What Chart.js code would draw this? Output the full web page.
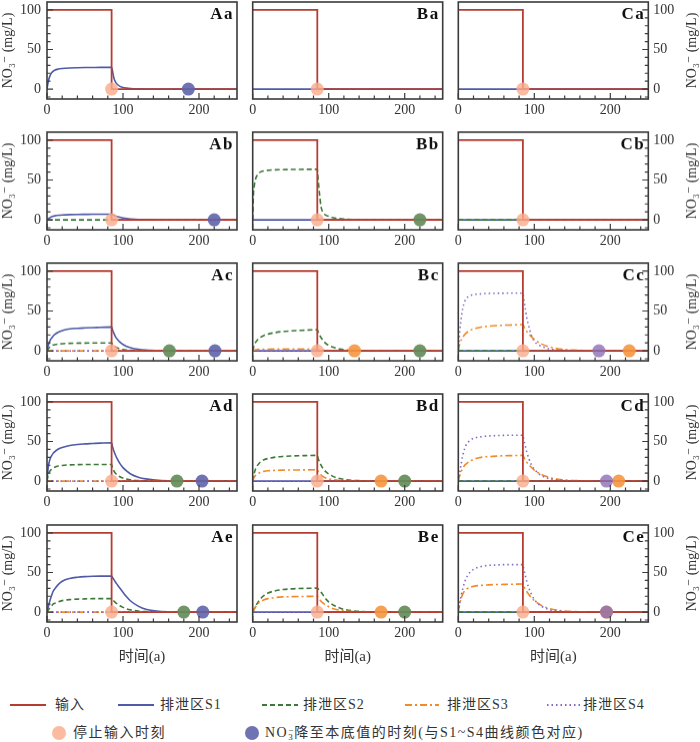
<!DOCTYPE html>
<html><head><meta charset="utf-8">
<script src="https://cdn.jsdelivr.net/npm/chart.js@4.4.1/dist/chart.umd.min.js"></script>
<style>
html,body{margin:0;padding:0;background:#fff;width:700px;height:742px;overflow:hidden;position:relative;font-family:"Liberation Serif","Times New Roman","DejaVu Serif","Noto Sans CJK SC",serif;color:#333;}
canvas.pc{position:absolute;}
.lg{position:absolute;font-size:14px;line-height:20px;white-space:nowrap;color:#333;}
.lg1{letter-spacing:1px;}
.lg2{letter-spacing:1.5px;}
.sw{position:absolute;}
.no3{display:inline-block;vertical-align:-3px;line-height:7px;font-size:9px;letter-spacing:0;margin-right:1px;}
</style></head><body>
<script>
// ---------- DATA ----------
const timeYears = [0,1,2,4,6,8,10,15,20,30,40,50,60,70,85,86,88,90,93,96,100,105,110,120,130,150,200,250];
const inputTimes = [0,85,85,250];
const inputValues = [100,100,0,0];
const zeroTimes = [0,250];
const zeroValues = [0,0];
const stopTimes = [85];
const stopValues = [0];
const xTickValues = [0,100,200];
const yTickValues = [0,50,100];
const xMinorTicks = [0,20,40,60,80,100,120,140,160,180,200,220,240];
const yMinorTicks = [-10,0,10,20,30,40,50,60,70,80,90,100];
const panelNames = ['Aa','Ba','Ca','Ab','Bb','Cb','Ac','Bc','Cc','Ad','Bd','Cd','Ae','Be','Ce'];

const aaS1 = [0,6,11,17,20.5,22.5,23.8,25.3,26,26.7,27,27.2,27.3,27.4,27.5,24,14,9,5.5,3.5,2,1.2,0.8,0.4,0.2,0.05,0,0];
const abS1 = [0,0.8,1.5,2.8,3.8,4.5,5,5.8,6.2,6.6,6.8,6.9,7,7,7,6.6,5.8,5,4,3.2,2.4,1.6,1.1,0.5,0.3,0.1,0,0];
const acS1 = [0,4.5,8,13,16,18.5,20.5,23.5,25.5,27.5,28.3,28.8,29.2,29.5,30,27,22,18,14,11,8,5.5,4,2,1,0.3,0,0];
const acS2 = [0,1.5,3,5,6.5,7.3,7.8,8.5,9,9.5,9.7,9.8,9.9,10,10,8.5,6.5,5,3.5,2.5,1.6,1,0.6,0.25,0.1,0,0,0];
const adS1 = [0,12,20,28,32,35,37,40.5,42.5,45,46.3,47,47.5,48,48.5,44,38,33,27,22,17,12.5,9,5,2.8,0.8,0,0];
const adS2 = [0,5,9,13,15,16.5,17.5,19,19.8,20.5,20.8,21,21,21,21,17,13,10,7.5,5.5,3.8,2.5,1.6,0.7,0.3,0.1,0,0];
const aeS1 = [0,4,8,15,21,26,29,35,39,42.5,44,44.8,45.2,45.4,45.5,44,41,38,34,30,25,19,14,7.5,3.5,0.8,0,0];
const aeS2 = [0,1.5,3,6,8,10,11,13,14.5,15.8,16.4,16.7,17,17,17,16,14,12,10,8,6,4,2.8,1.3,0.6,0.1,0,0];
const bbS2 = [0,32,42,52,56,58.5,60,61.5,62.2,62.8,63,63.2,63.3,63.4,63.5,52,32,16,9,6,4.5,3,2,1,0.5,0.1,0,0];
const bcS2 = [0,4,7,11,13.5,15.5,17,19.5,21,23,24.3,25,25.5,26,26.5,24,20,16.5,12.5,9.5,7,4.8,3.3,1.5,0.7,0.2,0,0];
const bcS3 = [0,0.5,1,1.5,1.8,2,2,2.1,2.1,2.2,2.2,2.2,2.2,2.2,2.2,2,1.7,1.4,1,0.8,0.5,0.3,0.2,0.1,0,0,0,0];
const bdS2 = [0,6,10,16,19.5,22,24,27,28.5,30.3,31.2,31.7,32,32.2,32.5,29,24,20,15.5,12,9,6.3,4.4,2.2,1.1,0.3,0,0];
const bdS3 = [0,3,5,7.5,9,10,11,12.3,13,13.6,13.9,14,14.1,14.2,14.3,12,9.5,7.5,5.5,4,2.8,1.8,1.2,0.5,0.2,0,0,0];
const beS2 = [0,2,4,8,11,14,16.5,21,24,27,28.5,29.3,29.8,30,30.3,29.5,27.5,25,21,17,13,9.5,7,3.5,1.8,0.5,0,0];
const beS3 = [0,2,4,7,9.5,11.5,13,15.5,17,18.5,19.2,19.5,19.7,19.8,20,18.5,16,13.5,11,9,6.8,4.7,3.3,1.6,0.8,0.2,0,0];
const ccS3 = [0,5,9,14,17.5,20,22,25.5,27.5,29.8,31,31.7,32.2,32.5,33,31,27.5,24.5,21,18,14.5,11,8.5,5,3,1,0.1,0];
const ccS4 = [0,12,25,42,54,61,65,69,70.5,71.5,72,72.2,72.3,72.4,72.5,66,54,42,30,20,12,8,5.5,2.5,1.2,0.3,0,0];
const cdS3 = [0,4,7.5,12.5,16.5,19.5,21.5,25,27.5,30,31,31.6,32,32.2,32.5,30.5,27,24,20.5,17.5,14,10.5,8,4.5,2.5,0.8,0.1,0];
const cdS4 = [0,5,11,23,33,40,45,51,54,56,57,57.5,57.8,58,58,53,45,37,28,21,15,10,6.5,3,1.5,0.3,0,0];
const ceS3 = [0,6,11,18,23,26.5,28.5,31,32.5,33.8,34.4,34.8,35,35.2,35.4,33,29.5,26,22,18.5,14.5,11,8,4.5,2.5,0.8,0.1,0];
const ceS4 = [0,6,12,22,30,37,42,50,54,57.5,59,59.5,60,60,60,55,47,39,30,23,16,10.5,7,3,1.5,0.3,0,0];

const curveS1 = [aaS1,null,null,abS1,null,null,acS1,null,null,adS1,null,null,aeS1,null,null];
const curveS2 = [null,null,null,null,bbS2,null,acS2,bcS2,null,adS2,bdS2,null,aeS2,beS2,null];
const curveS3 = [null,null,null,null,null,null,null,bcS3,ccS3,null,bdS3,cdS3,null,beS3,ceS3];
const curveS4 = [null,null,null,null,null,null,null,null,ccS4,null,null,cdS4,null,null,ceS4];
const zeroS1 = [false,true,true,false,true,true,false,true,true,false,true,true,false,true,true];
const zeroS2 = [false,false,false,true,false,true,false,false,true,false,false,true,false,false,true];
const zeroS3 = [false,false,false,false,false,false,true,false,false,true,false,false,true,false,false];
const zeroS4 = [false,false,false,false,false,false,true,true,false,true,true,false,true,true,false];
const baseS1 = [186,null,null,220,null,null,221,null,null,204,null,null,205,null,null];
const baseS2 = [null,null,null,null,220,null,161,220,null,171,200,null,180,200,null];
const baseS3 = [null,null,null,null,null,null,null,134,225,null,169,211,null,169,195];
const baseS4 = [null,null,null,null,null,null,null,null,185,null,null,195,null,null,195];

// ---------- STYLE ----------
const FONT = '"Liberation Serif", "Times New Roman", "DejaVu Serif", "Noto Sans CJK SC", serif';
const TXT = '#333333';
const inputColor = '#b53c30';
const seriesColors = ['#4f5aa8','#3d7a3a','#f28a2a','#8669c4'];
const seriesDash = [[], [5,3], [7,3,2,3], [1.5,3]];
const markColors = ['rgba(95,100,170,0.9)','rgba(100,140,90,0.92)','rgba(245,150,65,0.9)','rgba(140,110,180,0.8)'];
const stopColor = 'rgba(250,172,140,0.82)';
const curves = [curveS1,curveS2,curveS3,curveS4];
const zeros = [zeroS1,zeroS2,zeroS3,zeroS4];
const bases = [baseS1,baseS2,baseS3,baseS4];

Chart.defaults.font.family = FONT;
Chart.defaults.color = TXT;

const pts = (xs, ys) => xs.map((x,k)=>({x:x, y:ys[k]}));

const panelDeco = {
  id: 'panelDeco',
  afterDatasetsDraw(chart, args, o) {
    const ctx = chart.ctx, a = chart.chartArea;
    const xs = chart.scales.x, ys = chart.scales.y;
    ctx.save();
    ctx.strokeStyle = '#3a3a3a';
    ctx.lineWidth = 1.2;
    ctx.beginPath();
    xMinorTicks.forEach(v => {
      const px = xs.getPixelForValue(v);
      const len = (v % 100 === 0) ? 6 : 3.5;
      ctx.moveTo(px, a.bottom); ctx.lineTo(px, a.bottom - len);
    });
    if (o.side) {
      yMinorTicks.forEach(v => {
        const py = ys.getPixelForValue(v);
        const len = (v % 50 === 0) ? 6 : 3.5;
        if (o.side === 'left') { ctx.moveTo(a.left, py); ctx.lineTo(a.left + len, py); }
        else { ctx.moveTo(a.right, py); ctx.lineTo(a.right - len, py); }
      });
    }
    ctx.stroke();
    ctx.lineWidth = 1.6;
    ctx.strokeRect(a.left, a.top, a.right - a.left, a.bottom - a.top);
    // panel label
    ctx.fillStyle = '#111';
    ctx.font = 'bold 17px ' + FONT;
    ctx.textAlign = 'right';
    ctx.textBaseline = 'middle';
    if ('letterSpacing' in ctx) ctx.letterSpacing = '1.5px';
    ctx.fillText(o.label, a.right - 3, a.top + 13);
    if ('letterSpacing' in ctx) ctx.letterSpacing = '0px';
    if (o.side === 'right') {
      ctx.fillStyle = TXT;
      ctx.font = '14px ' + FONT;
      ctx.textAlign = 'center';
      ctx.translate(chart.width - 8, (a.top + a.bottom) / 2);
      ctx.rotate(-Math.PI / 2);
      ctx.fillText('NO\u2083\u207B (mg/L)', 0, 0);
    }
    ctx.restore();
  }
};

const colLeft = [0, 245, 450];
const colWidth = [245, 205, 250];
const padL = [0, 7.7, 8.3];
const padR = [8, 7.3, 0];
const yAxisW = [47, 0, 51.7];
const PADTOP = 18, CH = 97.5;

panelNames.forEach((name, i) => {
  const row = Math.floor(i / 3), col = i % 3;
  const chartTop = 1.5 + 130.8 * row;
  const xh = row === 4 ? 45 : 25;
  const cv = document.createElement('canvas');
  cv.className = 'pc';
  const W = colWidth[col], H = PADTOP + CH + xh;
  cv.width = W; cv.height = H;
  cv.style.width = W + 'px'; cv.style.height = H + 'px';
  cv.style.left = colLeft[col] + 'px';
  cv.style.top = (chartTop - PADTOP) + 'px';
  document.body.appendChild(cv);

  const datasets = [];
  for (let s = 3; s >= 0; s--) {
    if (bases[s][i] != null) {
      datasets.push({data: [{x: bases[s][i], y: 0}], showLine: false, pointRadius: 6.5, pointHoverRadius: 6.5,
        pointBackgroundColor: markColors[s], pointBorderWidth: 0, order: 3 - s});
    }
  }
  datasets.push({data: pts(stopTimes, stopValues), showLine: false, pointRadius: 6.5, pointHoverRadius: 6.5,
    pointBackgroundColor: stopColor, pointBorderWidth: 0, order: 5});
  datasets.push({data: pts(inputTimes, inputValues), borderColor: inputColor, borderWidth: 1.8, pointRadius: 0,
    tension: 0, order: 6});
  for (let s = 3; s >= 0; s--) {
    const base = {borderColor: seriesColors[s], borderWidth: 1.6, borderDash: seriesDash[s], pointRadius: 0,
      order: 10 - s};
    if (curves[s][i]) datasets.push(Object.assign({data: pts(timeYears, curves[s][i]), cubicInterpolationMode: 'monotone'}, base));
    if (zeros[s][i]) datasets.push(Object.assign({data: pts(zeroTimes, zeroValues), tension: 0}, base));
  }

  const yOpts = {
    type: 'linear', min: -12.5, max: 110,
    position: col === 2 ? 'right' : 'left',
    display: col !== 1,
    grid: {display: false, drawTicks: false},
    border: {display: false},
    afterBuildTicks: s => { s.ticks = yTickValues.map(v => ({value: v})); },
    afterFit: s => { s.width = yAxisW[col]; },
    ticks: {font: {size: 14}, color: TXT, padding: col === 2 ? 5 : 6},
    title: {display: col === 0, text: 'NO\u2083\u207B (mg/L)', font: {size: 14}, color: TXT, padding: 0}
  };
  const xOpts = {
    type: 'linear', min: 0, max: 250,
    grid: {display: false, drawTicks: false},
    border: {display: false},
    afterBuildTicks: s => { s.ticks = xTickValues.map(v => ({value: v})); },
    afterFit: s => { s.height = xh; },
    ticks: {font: {size: 14}, color: TXT, padding: 3, maxRotation: 0},
    title: {display: row === 4, text: '时间(a)', font: {size: 15}, color: TXT, padding: {top: 0, bottom: 1}}
  };

  new Chart(cv, {
    type: 'line',
    data: {datasets},
    options: {
      responsive: false, animation: false, devicePixelRatio: 1,
      layout: {padding: {left: padL[col], right: padR[col], top: PADTOP, bottom: 0}},
      plugins: {legend: {display: false}, tooltip: {enabled: false},
        panelDeco: {label: name, side: col === 0 ? 'left' : (col === 2 ? 'right' : null)}},
      scales: {x: xOpts, y: yOpts}
    },
    plugins: [panelDeco]
  });
});
</script>

<!-- legend -->
<svg class="sw" style="left:10px;top:702px" width="36" height="6"><line x1="0" y1="3" x2="36" y2="3" stroke="#b53c30" stroke-width="2"/></svg>
<div class="lg lg1" style="left:55px;top:695px">输入</div>
<svg class="sw" style="left:118px;top:702px" width="36" height="6"><line x1="0" y1="3" x2="36" y2="3" stroke="#4f5aa8" stroke-width="2"/></svg>
<div class="lg lg1" style="left:160px;top:695px">排泄区S1</div>
<svg class="sw" style="left:262px;top:702px" width="36" height="6"><line x1="0" y1="3" x2="36" y2="3" stroke="#3d7a3a" stroke-width="2" stroke-dasharray="5,3"/></svg>
<div class="lg lg1" style="left:303px;top:695px">排泄区S2</div>
<svg class="sw" style="left:405px;top:702px" width="34" height="6"><line x1="0" y1="3" x2="34" y2="3" stroke="#f28a2a" stroke-width="2" stroke-dasharray="7,3,2,3"/></svg>
<div class="lg lg1" style="left:447px;top:695px">排泄区S3</div>
<svg class="sw" style="left:547px;top:702px" width="34" height="6"><line x1="0" y1="3" x2="34" y2="3" stroke="#8669c4" stroke-width="2" stroke-dasharray="1.5,3"/></svg>
<div class="lg lg1" style="left:583px;top:695px">排泄区S4</div>

<svg class="sw" style="left:52px;top:726px" width="14" height="14"><circle cx="7" cy="7" r="7" fill="rgba(250,172,140,0.82)"/></svg>
<div class="lg lg2" style="left:73px;top:723px">停止输入时刻</div>
<svg class="sw" style="left:245px;top:726px" width="14" height="14"><circle cx="7" cy="7" r="7" fill="rgba(95,100,170,0.9)"/></svg>
<div class="lg lg2" style="left:265px;top:723px">NO<span class="no3">−<br>3</span>降至本底值的时刻(与S1~S4曲线颜色对应)</div>
</body></html>
